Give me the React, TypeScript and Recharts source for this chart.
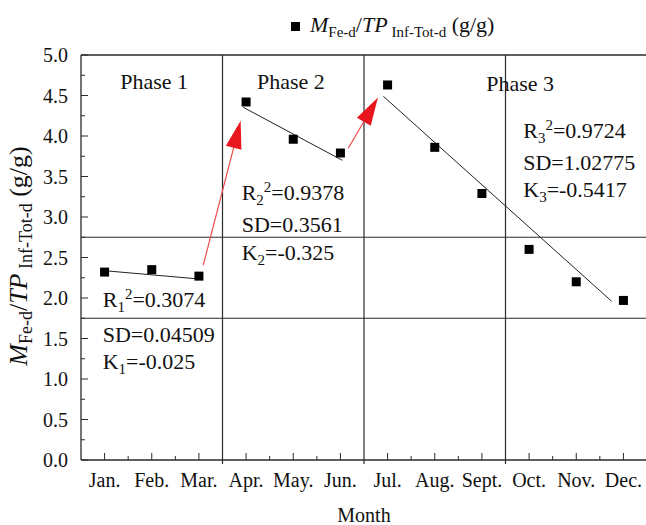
import React from 'react';
import {
  ComposedChart,
  Scatter,
  XAxis,
  YAxis,
  ReferenceLine,
  ReferenceDot,
  Customized,
} from 'recharts';

// ---------- data ----------
const monthLabels = ['Jan.', 'Feb.', 'Mar.', 'Apr.', 'May.', 'Jun.', 'Jul.', 'Aug.', 'Sept.', 'Oct.', 'Nov.', 'Dec.'];
const monthIndex = [1, 2, 3, 4, 5, 6, 7, 8, 9, 10, 11, 12];
const ratioValues = [2.32, 2.35, 2.27, 4.42, 3.96, 3.79, 4.63, 3.86, 3.29, 2.6, 2.2, 1.97];

const phaseBoundaries = [3.5, 6.5, 9.5];
const horizontalDividers = [2.75, 1.75];
const yTicks = [0, 0.25, 0.5, 0.75, 1, 1.25, 1.5, 1.75, 2, 2.25, 2.5, 2.75, 3, 3.25, 3.5, 3.75, 4, 4.25, 4.5, 4.75, 5];
const xTicks = [1, 1.5, 2, 2.5, 3, 3.5, 4, 4.5, 5, 5.5, 6, 6.5, 7, 7.5, 8, 8.5, 9, 9.5, 10, 10.5, 11, 11.5, 12];

const fitPhase1 = [{ x: 1, y: 2.337 }, { x: 2.995, y: 2.235 }];
const fitPhase2 = [{ x: 3.94, y: 4.354 }, { x: 6.04, y: 3.7 }];
const fitPhase3 = [{ x: 6.91, y: 4.49 }, { x: 11.75, y: 1.96 }];
const arrow1 = [{ x: 3.092, y: 2.407 }, { x: 3.885, y: 4.189 }];
const arrow2 = [{ x: 6.166, y: 3.848 }, { x: 6.796, y: 4.475 }];

const phaseLabels = [
  { x: 2.05, y: 4.58, text: 'Phase 1' },
  { x: 4.95, y: 4.58, text: 'Phase 2' },
  { x: 9.81, y: 4.56, text: 'Phase 3' },
];

const statBlocks = [
  { x: 0.96, y: [1.89, 1.457, 1.123], idx: '1', r2: '0.3074', sd: '0.04509', k: '-0.025' },
  { x: 3.906, y: [3.21, 2.815, 2.469], idx: '2', r2: '0.9378', sd: '0.3561', k: '-0.325' },
  { x: 9.876, y: [3.972, 3.58, 3.243], idx: '3', r2: '0.9724', sd: '1.02775', k: '-0.5417' },
];

const points = monthIndex.map((m, i) => ({ x: m, y: ratioValues[i] }));

// ---------- styles ----------
const FONT = '"Liberation Serif", "Times New Roman", serif';
const AXIS = '#2a2a2a';

const YTick = (props: any) => {
  const { x, y, payload } = props;
  const v = payload.value as number;
  const major = Math.abs(v * 2 - Math.round(v * 2)) < 1e-6;
  return (
    <g>
      <line x1={x} y1={y} x2={x + (major ? 7 : 4)} y2={y} stroke={AXIS} strokeWidth={1} />
      {major && (
        <text x={x - 13} y={y + 7} textAnchor="end" fontFamily={FONT} fontSize={20} fill="#111">
          {v.toFixed(1)}
        </text>
      )}
    </g>
  );
};

const XTick = (props: any) => {
  const { x, y, payload } = props;
  const v = payload.value as number;
  const isInt = Math.abs(v - Math.round(v)) < 1e-6;
  const isBoundary = phaseBoundaries.some((b) => Math.abs(b - v) < 1e-6);
  if (isBoundary) {
    return <line x1={x} y1={y} x2={x} y2={y + 4} stroke={AXIS} strokeWidth={1.2} />;
  }
  return (
    <g>
      <line x1={x} y1={y} x2={x} y2={y - (isInt ? 7 : 4)} stroke={AXIS} strokeWidth={1} />
      {isInt && (
        <text x={x} y={y + 27} textAnchor="middle" fontFamily={FONT} fontSize={20} fill="#111">
          {monthLabels[Math.round(v) - 1]}
        </text>
      )}
    </g>
  );
};

const SquareMarker = (props: any) => {
  const { cx, cy } = props;
  return <rect x={cx - 4.5} y={cy - 4.5} width={9} height={9} fill="#000" />;
};

const ArrowShape = (props: any) => {
  const { x1, y1, x2, y2 } = props;
  const dx = x2 - x1;
  const dy = y2 - y1;
  const len = Math.sqrt(dx * dx + dy * dy) || 1;
  const ux = dx / len;
  const uy = dy / len;
  const headLen = 28;
  const halfW = 8;
  const bx = x2 - ux * headLen;
  const by = y2 - uy * headLen;
  const px = -uy;
  const py = ux;
  const pts = `${x2},${y2} ${bx + px * halfW},${by + py * halfW} ${bx - px * halfW},${by - py * halfW}`;
  return (
    <g>
      <line x1={x1} y1={y1} x2={bx + ux * 4} y2={by + uy * 4} stroke="#ef4a4a" strokeWidth={1.2} />
      <polygon points={pts} fill="#e8161e" />
    </g>
  );
};

const makeTextShape = (text: string, anchor: string) => (props: any) => {
  const { cx, cy } = props;
  return (
    <text x={cx} y={cy} textAnchor={anchor} fontFamily={FONT} fontSize={22} fill="#111">
      {text}
    </text>
  );
};

const makeStatShape = (kind: 'r2' | 'sd' | 'k', idx: string, value: string) => (props: any) => {
  const { cx, cy } = props;
  if (kind === 'sd') {
    return (
      <text x={cx} y={cy} fontFamily={FONT} fontSize={22} fill="#111">
        {'SD=' + value}
      </text>
    );
  }
  if (kind === 'r2') {
    return (
      <text x={cx} y={cy} fontFamily={FONT} fontSize={22} fill="#111">
        <tspan>R</tspan>
        <tspan fontSize={15} dy={5}>{idx}</tspan>
        <tspan fontSize={15} dy={-13}>2</tspan>
        <tspan dy={8}>{'=' + value}</tspan>
      </text>
    );
  }
  return (
    <text x={cx} y={cy} fontFamily={FONT} fontSize={22} fill="#111">
      <tspan>K</tspan>
      <tspan fontSize={15} dy={5}>{idx}</tspan>
      <tspan dy={-5}>{'=' + value}</tspan>
    </text>
  );
};

const LegendAndLabel = () => (
  <g>
    <rect x={291} y={22} width={9} height={9} fill="#000" />
    <text x={310} y={32} fontFamily={FONT} fontSize={22} fill="#111">
      <tspan fontStyle="italic">M</tspan>
      <tspan fontSize={15} dy={5}>Fe-d</tspan>
      <tspan dy={-5}>/</tspan>
      <tspan fontStyle="italic">TP</tspan>
      <tspan fontSize={15} dy={5}>{' Inf-Tot-d'}</tspan>
      <tspan dy={-5}>{'  (g/g)'}</tspan>
    </text>
    <text
      x={27}
      y={256}
      transform="rotate(-90, 27, 256)"
      textAnchor="middle"
      fontFamily={FONT}
      fontSize={26}
      fill="#111"
    >
      <tspan fontStyle="italic">M</tspan>
      <tspan fontSize={18} dy={5}>Fe-d</tspan>
      <tspan dy={-5}>/</tspan>
      <tspan fontStyle="italic">TP</tspan>
      <tspan fontSize={18} dy={5}>{' Inf-Tot-d'}</tspan>
      <tspan dy={-5}>{' (g/g)'}</tspan>
    </text>
    <text x={364} y={522} textAnchor="middle" fontFamily={FONT} fontSize={20} fill="#111">
      Month
    </text>
  </g>
);

export default function App() {
  return (
    <div style={{ position: 'absolute', left: 0, top: 0, width: 646, height: 525, overflow: 'hidden', background: '#fff' }}>
      <ComposedChart width={650} height={525} margin={{ top: 55, right: 3, bottom: 0, left: 0 }} data={points}>
        <XAxis
          type="number"
          dataKey="x"
          domain={[0.5, 12.5]}
          ticks={xTicks}
          interval={0}
          tickSize={0}
          tickMargin={0}
          height={65}
          axisLine={{ stroke: AXIS, strokeWidth: 1.3 }}
          tickLine={false}
          tick={<XTick />}
          allowDataOverflow
        />
        <YAxis
          type="number"
          dataKey="y"
          domain={[0, 5]}
          ticks={yTicks}
          interval={0}
          tickSize={0}
          tickMargin={0}
          width={81}
          axisLine={{ stroke: AXIS, strokeWidth: 1.3 }}
          tickLine={false}
          tick={<YTick />}
          allowDataOverflow
        />
        <ReferenceLine y={5} stroke={AXIS} strokeWidth={1.3} />
        <ReferenceLine x={12.5} stroke={AXIS} strokeWidth={1.3} />
        {phaseBoundaries.map((b) => (
          <ReferenceLine key={'v' + b} x={b} stroke={AXIS} strokeWidth={1.2} />
        ))}
        {horizontalDividers.map((h) => (
          <ReferenceLine key={'h' + h} y={h} stroke={AXIS} strokeWidth={1.2} />
        ))}
        {[fitPhase1, fitPhase2, fitPhase3].map((seg, i) => (
          <ReferenceLine key={'fit' + i} segment={seg} stroke="#222" strokeWidth={1} />
        ))}
        {[arrow1, arrow2].map((seg, i) => (
          <ReferenceLine key={'arr' + i} segment={seg} shape={ArrowShape} />
        ))}
        <Scatter data={points} dataKey="y" shape={SquareMarker} isAnimationActive={false} />
        {phaseLabels.map((p) => (
          <ReferenceDot key={p.text} x={p.x} y={p.y} r={1} shape={makeTextShape(p.text, 'middle')} />
        ))}
        {statBlocks.map((s) => (
          <React.Fragment key={'s' + s.idx}>
            <ReferenceDot x={s.x} y={s.y[0]} r={1} shape={makeStatShape('r2', s.idx, s.r2)} />
            <ReferenceDot x={s.x} y={s.y[1]} r={1} shape={makeStatShape('sd', s.idx, s.sd)} />
            <ReferenceDot x={s.x} y={s.y[2]} r={1} shape={makeStatShape('k', s.idx, s.k)} />
          </React.Fragment>
        ))}
        <Customized component={LegendAndLabel} />
      </ComposedChart>
    </div>
  );
}
